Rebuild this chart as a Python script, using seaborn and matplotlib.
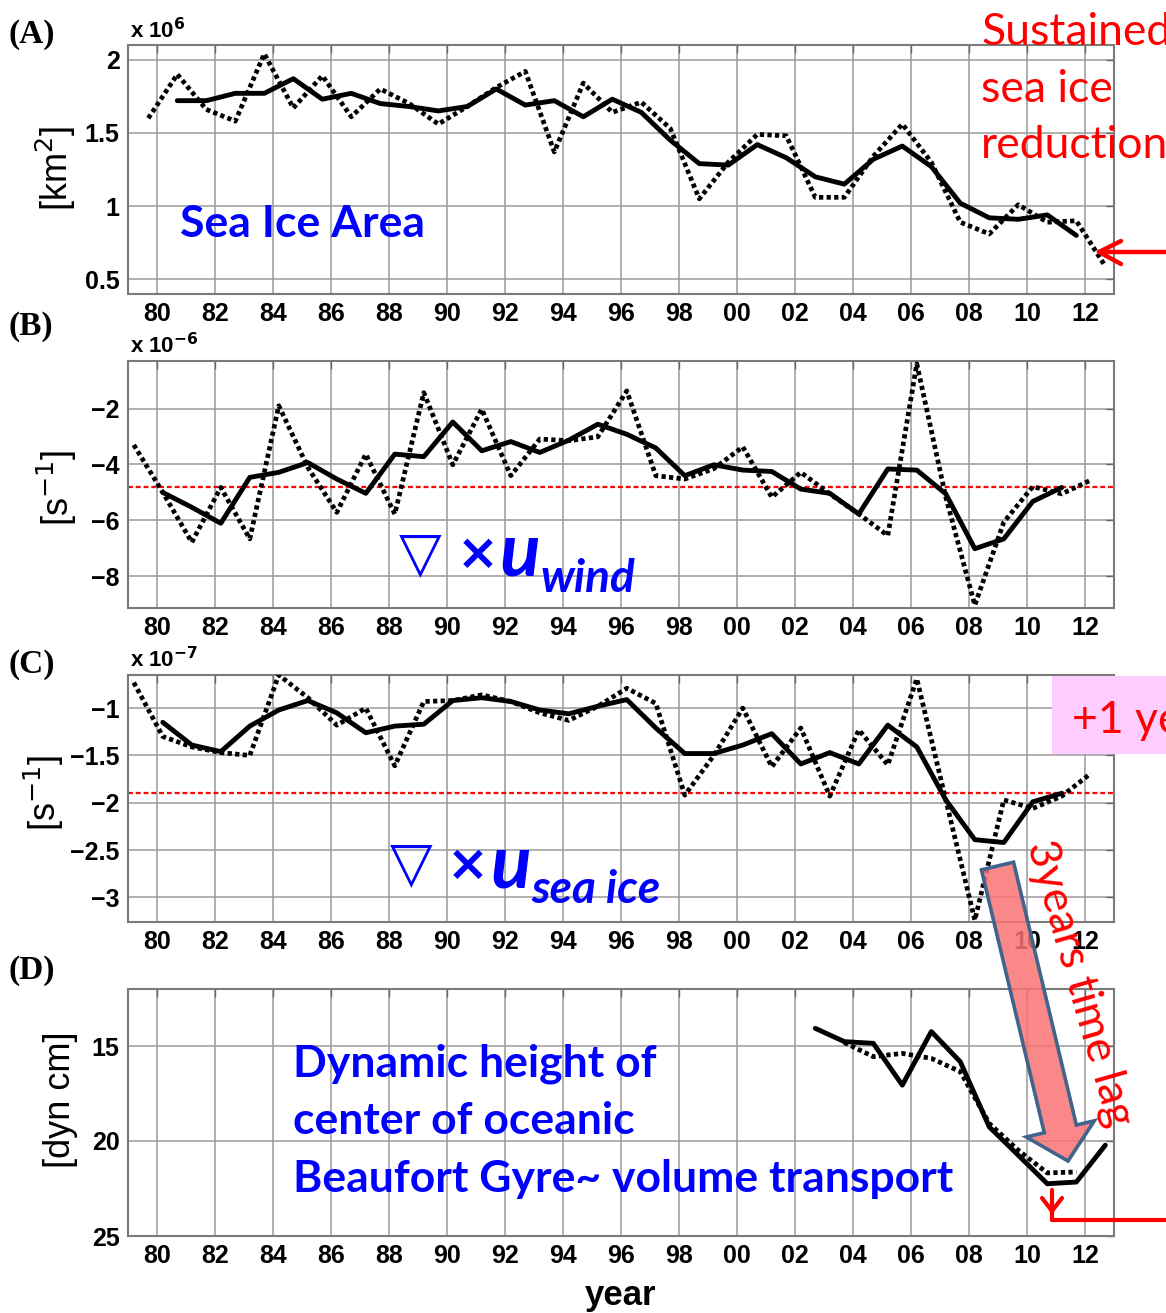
import matplotlib
matplotlib.use("Agg")
import matplotlib.pyplot as plt
import seaborn as sns
import pandas as pd
from matplotlib.patches import FancyArrow, Rectangle
from matplotlib.lines import Line2D

# ---------------- data ----------------
annual_years = list(range(1979, 2013))          # 1979 .. 2012
smooth_years = list(range(1980, 2012))          # 1980 .. 2011

# (A) sea ice area [x 10^6 km^2], plotted at ~Sep (year + 0.7)
area_annual = [1.60, 1.90, 1.66, 1.58, 2.04, 1.67, 1.89, 1.61, 1.80, 1.70,
               1.56, 1.68, 1.81, 1.92, 1.37, 1.84, 1.64, 1.71, 1.53, 1.05,
               1.30, 1.49, 1.48, 1.06, 1.06, 1.34, 1.56, 1.30, 0.89, 0.81,
               1.01, 0.89, 0.90, 0.59]
area_smooth = [1.72, 1.72, 1.77, 1.77, 1.87, 1.73, 1.77, 1.70, 1.68, 1.65,
               1.68, 1.80, 1.69, 1.72, 1.61, 1.73, 1.64, 1.45, 1.29, 1.28,
               1.42, 1.33, 1.20, 1.15, 1.32, 1.41, 1.27, 1.02, 0.92, 0.91,
               0.94, 0.80]

# (B) wind stress curl [x 10^-6 s^-1], plotted at year + 0.2
wind_annual = [-3.30, -5.00, -6.78, -4.82, -6.66, -1.90, -4.10, -5.71, -3.63, -5.77,
               -1.43, -4.01, -2.02, -4.40, -3.09, -3.15, -3.01, -1.37, -4.40, -4.52,
               -4.15, -3.37, -5.17, -4.28, -5.05, -5.77, -6.54, -0.40, -5.17, -9.03,
               -6.06, -4.79, -5.05, -4.56]
wind_smooth = [-5.00, -5.53, -6.10, -4.46, -4.28, -3.93, -4.52, -5.03, -3.63, -3.72,
               -2.48, -3.51, -3.18, -3.57, -3.13, -2.56, -2.92, -3.41, -4.40, -4.01,
               -4.20, -4.25, -4.88, -5.03, -5.77, -4.16, -4.20, -5.05, -7.01, -6.66,
               -5.32, -4.82]
wind_mean = -4.79

# (C) sea ice velocity curl [x 10^-7 s^-1], plotted at year + 0.2
ice_annual = [-0.73, -1.30, -1.41, -1.47, -1.50, -0.65, -0.89, -1.18, -1.00, -1.61,
              -0.93, -0.92, -0.86, -0.93, -1.05, -1.13, -0.98, -0.79, -0.95, -1.92,
              -1.50, -1.00, -1.62, -1.21, -1.93, -1.23, -1.60, -0.69, -1.97, -3.24,
              -1.97, -2.06, -1.93, -1.69]
ice_smooth = [-1.15, -1.39, -1.46, -1.19, -1.02, -0.92, -1.05, -1.26, -1.19, -1.17,
              -0.92, -0.89, -0.93, -1.02, -1.06, -0.98, -0.91, -1.21, -1.48, -1.48,
              -1.39, -1.27, -1.59, -1.47, -1.59, -1.18, -1.41, -1.97, -2.39, -2.42,
              -1.99, -1.90]
ice_mean = -1.90

# (D) dynamic height [dyn cm], plotted at year + 0.7
dh_years = list(range(2002, 2013))
dh_annual = [14.07, 14.77, 14.86, 17.06, 14.24, 15.83, 19.26, 20.75, 22.25, 22.16, 20.22]
dh_smooth_years = list(range(2003, 2012))
dh_smooth = [14.82, 15.56, 15.39, 15.65, 16.35, 19.08, 20.49, 21.68, 21.63]

SEP_OFFSET = 0.7
WIN_OFFSET = 0.2

xtick_years = list(range(1980, 2013, 2))
xtick_labels = ["%02d" % (y % 100) for y in xtick_years]

# ---------------- style ----------------
sns.set_style("white")
plt.rcParams["font.family"] = ["Liberation Sans", "DejaVu Sans"]
plt.rcParams["axes.unicode_minus"] = True
plt.rcParams["mathtext.fontset"] = "dejavusans"
plt.rcParams["text.color"] = "black"

W, H = 1166, 1313
fig = plt.figure(figsize=(W / 100, H / 100), dpi=100)
fig.patch.set_facecolor("white")


def fx(x):
    return x / W


def fy(y):
    return 1 - y / H


def make_ax(top, bottom):
    return fig.add_axes([fx(128), fy(bottom), (1114 - 128) / W, (bottom - top) / H])


DOT = (0, (0.9, 0.7))
GRID = "#9a9a9a"


def draw(ax, years_a, vals_a, years_s, vals_s, offset):
    df_a = pd.DataFrame({"t": [y + offset for y in years_a], "v": vals_a})
    df_s = pd.DataFrame({"t": [y + offset for y in years_s], "v": vals_s})
    sns.lineplot(data=df_a, x="t", y="v", ax=ax, color="black", linewidth=3.4,
                 linestyle=DOT, errorbar=None, zorder=3)
    sns.lineplot(data=df_s, x="t", y="v", ax=ax, color="black", linewidth=3.5,
                 errorbar=None, zorder=4)


def style(ax, yticks, ylabels, ylim):
    ax.set_xlim(1979, 2013)
    ax.set_ylim(*ylim)
    ax.set_xticks(xtick_years)
    ax.set_xticklabels(xtick_labels)
    ax.set_yticks(yticks)
    ax.set_yticklabels(ylabels)
    ax.grid(True, color=GRID, linewidth=1.1)
    ax.set_axisbelow(True)
    ax.tick_params(direction="in", length=6, width=1, color="#666666",
                   labelcolor="black", top=True, right=True, labelsize=18, pad=6)
    for lab in ax.get_xticklabels() + ax.get_yticklabels():
        lab.set_fontweight("bold")
    for s in ax.spines.values():
        s.set_color("#7a7a7a")
        s.set_linewidth(1.5)
    ax.set_xlabel("")
    ax.set_ylabel("")


axA = make_ax(45, 294)
axB = make_ax(361, 608)
axC = make_ax(675, 922)
axD = make_ax(989, 1236)

draw(axA, annual_years, area_annual, smooth_years, area_smooth, SEP_OFFSET)
style(axA, [0.5, 1, 1.5, 2], ["0.5", "1", "1.5", "2"], (0.4, 2.1))

draw(axB, annual_years, wind_annual, smooth_years, wind_smooth, WIN_OFFSET)
axB.axhline(wind_mean, color="red", linewidth=1.6, linestyle=(0, (2.2, 1.3)), zorder=2)
style(axB, [-8, -6, -4, -2], ["\u22128", "\u22126", "\u22124", "\u22122"], (-9.13, -0.3))

draw(axC, annual_years, ice_annual, smooth_years, ice_smooth, WIN_OFFSET)
axC.axhline(ice_mean, color="red", linewidth=1.6, linestyle=(0, (2.2, 1.3)), zorder=2)
style(axC, [-3, -2.5, -2, -1.5, -1],
      ["\u22123", "\u22122.5", "\u22122", "\u22121.5", "\u22121"], (-3.26, -0.65))

draw(axD, dh_smooth_years, dh_smooth, dh_years, dh_annual, SEP_OFFSET)
style(axD, [15, 20, 25], ["15", "20", "25"], (25, 12))
axD.set_xlabel("year", fontsize=25, fontweight="bold", labelpad=8, color="black")


def t(x, y, s, **kw):
    return fig.text(fx(x), fy(y), s, **kw)


# panel letters
for lab, yy in [("(A)", 35), ("(B)", 327), ("(C)", 664), ("(D)", 971)]:
    t(9, yy, lab, family=["Liberation Serif", "DejaVu Serif"], fontweight="bold",
      fontsize=24, va="center", ha="left")

# scale factors
for s, yy in [(r"x 10$^{\mathbf{6}}$", 38), (r"x 10$^{\mathbf{-6}}$", 353),
              (r"x 10$^{\mathbf{-7}}$", 667)]:
    t(130, yy, s, fontsize=16, fontweight="bold", va="baseline", ha="left")

# y-axis unit labels
ylab_kw = dict(family=["Liberation Sans"], fontsize=26,
               rotation=90, ha="center", va="center")
t(56, 168, r"[km$^2$]", **ylab_kw)
t(57, 488, r"[s$^{-1}$]", **ylab_kw)
t(44, 793, r"[s$^{-1}$]", **ylab_kw)
t(60, 1100, "[dyn cm]", **ylab_kw)

BLUE = "#0000ff"
RED = "#ff0000"
txt = dict(family=["Lato", "DejaVu Sans"], fontsize=32)

# (A) annotations
t(180, 237, "Sea Ice Area", color=BLUE, fontweight="bold", va="baseline", **txt)
for s, yb in [("Sustained", 45), ("sea ice", 102), ("reduction", 158)]:
    t(981, yb, s, color=RED, va="baseline", **txt)
for seg in [((1166, 252), (1099, 252)), ((1099, 252), (1121, 241)), ((1099, 252), (1121, 264))]:
    fig.add_artist(Line2D([fx(seg[0][0]), fx(seg[1][0])], [fy(seg[0][1]), fy(seg[1][1])],
                          transform=fig.transFigure, color=RED, linewidth=3.2,
                          solid_capstyle="round", zorder=5))

# (B) curl of wind
t(399, 555, "\u25bd", color=BLUE, family=["DejaVu Sans"], fontsize=40, va="center", ha="left")
t(457, 555, "\u00d7", color=BLUE, family=["DejaVu Sans"], fontweight="bold", fontsize=36,
  va="center", ha="left")
t(500, 575, "u", color=BLUE, family=["Lato", "DejaVu Sans"], fontweight="bold",
  fontstyle="italic", fontsize=54, va="baseline", ha="left")
t(541, 592, "wind", color=BLUE, family=["Lato", "DejaVu Sans"], fontweight="bold",
  fontstyle="italic", fontsize=33, va="baseline", ha="left")

# (C) curl of sea ice velocity
t(390, 865, "\u25bd", color=BLUE, family=["DejaVu Sans"], fontsize=40, va="center", ha="left")
t(447, 866, "\u00d7", color=BLUE, family=["DejaVu Sans"], fontweight="bold", fontsize=36,
  va="center", ha="left")
t(491, 887, "u", color=BLUE, family=["Lato", "DejaVu Sans"], fontweight="bold",
  fontstyle="italic", fontsize=54, va="baseline", ha="left")
t(531, 903, "sea ice", color=BLUE, family=["Lato", "DejaVu Sans"], fontweight="bold",
  fontstyle="italic", fontsize=33, va="baseline", ha="left")

# "+1 year" box
fig.add_artist(Rectangle((fx(1052), fy(754)), (1220 - 1052) / W, (754 - 676) / H,
                         transform=fig.transFigure, facecolor="#ffccff", edgecolor="none",
                         zorder=5))
t(1072, 733, "+1 year", color=RED, va="baseline", ha="left", zorder=6, **txt)

# (D) annotations
for s, yb in [("Dynamic height of", 1076), ("center of oceanic", 1134),
              ("Beaufort Gyre~ volume transport", 1192)]:
    t(293, yb, s, color=BLUE, fontweight="bold", va="baseline", **txt)

for seg in [((1166, 1220), (1052, 1220)), ((1052, 1220), (1052, 1190)),
            ((1052, 1211), (1042, 1198)), ((1052, 1211), (1062, 1198))]:
    fig.add_artist(Line2D([fx(seg[0][0]), fx(seg[1][0])], [fy(seg[0][1]), fy(seg[1][1])],
                          transform=fig.transFigure, color=RED, linewidth=3.0,
                          solid_capstyle="round", zorder=5))

# big lag arrow (inches coordinates)
x0, y0 = 997.5 / 100, (H - 866) / 100
x1, y1 = 1068 / 100, (H - 1161) / 100
fig.add_artist(FancyArrow(x0, y0, x1 - x0, y1 - y0, width=0.33, head_width=0.70,
                          head_length=0.33, length_includes_head=True,
                          transform=fig.dpi_scale_trans,
                          facecolor=(0.98, 0.45, 0.45, 0.85), edgecolor="#41648c",
                          linewidth=2.6, zorder=7))

t(1079, 983, "3years time lag", color=RED, rotation=-74, rotation_mode="anchor",
  ha="center", va="center", zorder=8, **txt)

fig.savefig("out.png", dpi=100, facecolor="white")
